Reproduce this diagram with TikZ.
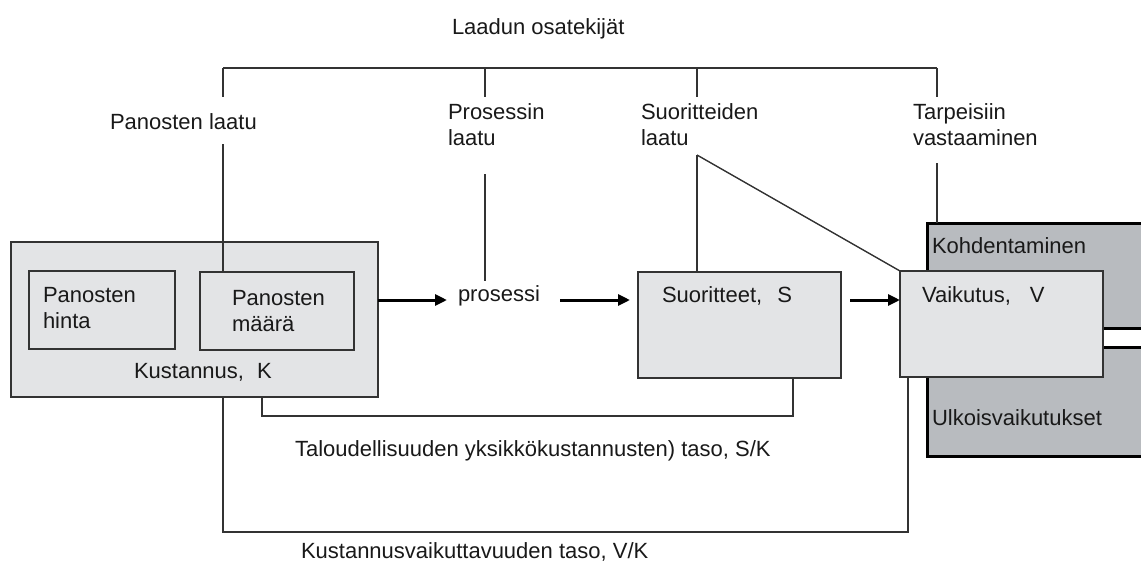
\documentclass[tikz,border=0pt]{standalone}
\usepackage{fontspec}
\setmainfont{Liberation Sans}
\usetikzlibrary{arrows.meta}
\definecolor{boxlight}{HTML}{E3E4E6}
\definecolor{boxdark}{HTML}{B8BBBF}
\definecolor{linegray}{HTML}{333333}
\newcommand\tln[2]{\vtop{\hbox{#1}\hbox{#2}}}
\begin{document}
\begin{tikzpicture}[x=1pt,y=-1pt,
  font=\fontsize{22}{26}\selectfont,
  lbox/.style={draw=linegray, line width=1.4pt, fill=boxlight, inner sep=0pt, outer sep=0pt, anchor=north west},
  dbox/.style={draw=black, line width=3pt, fill=boxdark, inner sep=0pt, outer sep=0pt, anchor=north west},
  conn/.style={draw=linegray, line width=1.4pt},
  arr/.style={draw=black, line width=3pt, -{Triangle[length=12pt,width=11pt]}},
  lbl/.style={anchor=base west, inner sep=0pt, outer sep=0pt, text=black!90}]
\useasboundingbox (0,0) rectangle (1141,563);
\clip (0,0) rectangle (1141,563);

% boxes
\node[lbox, minimum width=367pt, minimum height=155pt] (K) at (11,242) {};
\node[lbox, minimum width=146pt, minimum height=78pt] (hinta) at (29,271) {};
\node[lbox, minimum width=154pt, minimum height=78pt] (maara) at (200,272) {};
\node[lbox, minimum width=203pt, minimum height=106pt] (S) at (638,272) {};
\node[dbox, minimum width=240pt, minimum height=105pt] (kohd) at (927,223) {};
\node[dbox, minimum width=240pt, minimum height=109pt] (ulk) at (927,347) {};
\node[lbox, minimum width=203pt, minimum height=106pt] (V) at (900,271) {};

% texts
\node[lbl] (laadun) at (452,34) {Laadun osatekijät};
\node[lbl] (pl) at (110,129) {Panosten laatu};
\node[lbl] (prl) at (448,119) {\tln{Prosessin}{laatu}};
\node[lbl] (sl) at (641,119) {\tln{Suoritteiden}{laatu}};
\node[lbl] (tv) at (913,119) {\tln{Tarpeisiin}{vastaaminen}};
\node[lbl] (thinta) at (43,302) {\tln{Panosten}{hinta}};
\node[lbl] (tmaara) at (232,305) {\tln{Panosten}{määrä}};
\node[lbl] (tK) at (134,378) {Kustannus,\hspace{13pt}K};
\node[lbl] (pros) at (458,301) {prosessi};
\node[lbl] (tS) at (662,302) {Suoritteet,\hspace{15pt}S};
\node[lbl] (tV) at (922,302) {Vaikutus,\hspace{19pt}V};
\node[lbl] (tkohd) at (932,253) {Kohdentaminen};
\node[lbl] (tulk) at (932,425) {Ulkoisvaikutukset};
\node[lbl] (tSK) at (295,456) {Taloudellisuuden yksikkökustannusten) taso, S/K};
\node[lbl] (tVK) at (301,558) {Kustannusvaikuttavuuden taso, V/K};

% top bracket
\coordinate (q1) at (223,68);
\coordinate (q2) at (485,68);
\coordinate (q3) at (697,68);
\coordinate (q4) at (937,68);
\coordinate (sq) at (697,155);
\draw[conn] (q1) -- (q4);
\draw[conn] (q1) -- ++(0,29);
\draw[conn] (q2) -- ++(0,29);
\draw[conn] (q3) -- ++(0,29);
\draw[conn] (q4) -- ++(0,29);
\draw[conn] (223,144) -- (maara.north -| q1);
\draw[conn] (485,174) -- (485,281);
\draw[conn] (sq) -- (S.north -| sq);
\draw[conn] (sq) -- (V.north west);
\draw[conn] (937,163) -- (kohd.north -| q4);

% arrows
\coordinate (a1) at (447,300);
\coordinate (a2s) at (560,300);
\coordinate (a2) at (630,300);
\coordinate (a3s) at (850,300);
\draw[arr] (K.east |- a1) -- (a1);
\draw[arr] (a2s) -- (a2);
\draw[arr] (a3s) -- (V.west |- a3s);

% bottom brackets
\coordinate (skL) at (262,416);
\coordinate (skR) at (793,416);
\coordinate (vkL) at (223,532);
\coordinate (vkR) at (908,532);
\draw[conn] (K.south -| skL) -- (skL) -- (skR) -- (S.south -| skR);
\draw[conn] (K.south -| vkL) -- (vkL) -- (vkR) -- (V.south -| vkR);
\end{tikzpicture}
\end{document}
